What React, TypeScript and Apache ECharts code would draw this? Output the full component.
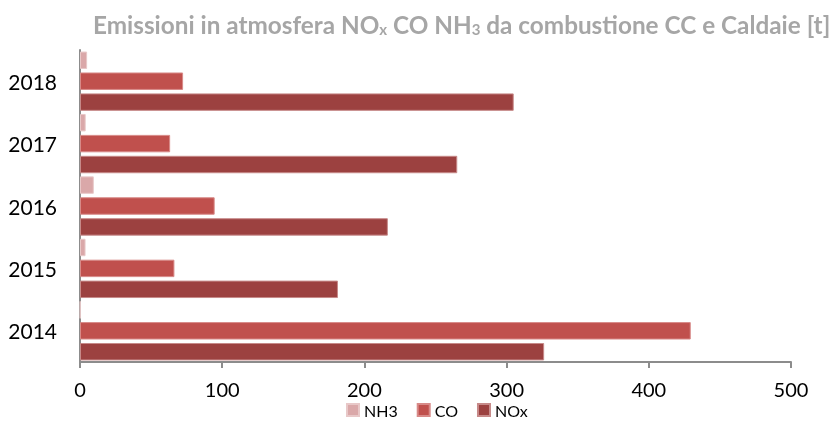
import React, { useEffect, useRef } from "react";
import * as echarts from "echarts";

const years = ["2014", "2015", "2016", "2017", "2018"];
const nh3 = [0.3, 3.9, 9.7, 4, 5];
const co = [429.5, 66.4, 94.7, 63.4, 72.5];
const nox = [326.4, 181.4, 216.5, 265.3, 305];
const xTicks = { min: 0, max: 500, interval: 100 };

const FONT = "Lato, 'Open Sans', sans-serif";

export default function App() {
  const ref = useRef<HTMLDivElement>(null);
  useEffect(() => {
    const chart = echarts.init(ref.current!, null, { renderer: "svg" });
    const mk = (name: string, data: number[], color: string, border: string) => ({
      name,
      type: "bar",
      data,
      barGap: "20%",
      barCategoryGap: "5%",
      itemStyle: { color, borderColor: border, borderWidth: 1 },
    });
    chart.setOption({
      animation: false,
      textStyle: { fontFamily: FONT },
      title: {
        text: "{t|Emissioni in atmosfera NO}{s|x}{t| CO NH}{s|3}{t| da combustione CC e Caldaie [t]}",
        left: 93,
        top: 6,
        padding: 0,
        textStyle: {
          rich: {
            t: { fontFamily: FONT, fontSize: 24.3, fontWeight: "bold", color: "#A6A6A6", lineHeight: 30, verticalAlign: "bottom" },
            s: { fontFamily: FONT, fontSize: 15, fontWeight: "bold", color: "#A6A6A6", lineHeight: 23, verticalAlign: "bottom" },
          },
        },
      },
      legend: {
        top: 402,
        left: 346,
        padding: 0,
        itemWidth: 12,
        itemHeight: 12,
        itemGap: 19,
        icon: "rect",
        textStyle: { fontFamily: FONT, fontSize: 16, lineHeight: 16, color: "#000", padding: [0, 0, 0, 0] },
        data: ["NH3", "CO", "NOx"],
      },
      grid: { left: 80, right: 42, top: 50, bottom: 59, containLabel: false },
      xAxis: {
        type: "value",
        min: xTicks.min,
        max: xTicks.max,
        interval: xTicks.interval,
        axisLine: { show: true, lineStyle: { color: "#8C8C8C", width: 2 } },
        axisTick: { show: true, length: 6, lineStyle: { color: "#8C8C8C", width: 2 } },
        splitLine: { show: false },
        axisLabel: { fontFamily: FONT, fontSize: 20, lineHeight: 20, color: "#000", margin: 17 },
      },
      yAxis: {
        type: "category",
        data: years,
        axisLine: { show: true, lineStyle: { color: "#8C8C8C", width: 2 } },
        axisTick: { show: false },
        axisLabel: { fontFamily: FONT, fontSize: 21, color: "#000", margin: 23 },
      },
      series: [
        mk("NH3", nh3, "#DAA8A9", "#E8C8C8"),
        mk("CO", co, "#C0504D", "#D88A88"),
        mk("NOx", nox, "#9C4140", "#C78A89"),
      ],
    });
    return () => chart.dispose();
  }, []);
  return (
    <div
      ref={ref}
      style={{ position: "fixed", left: 0, top: 0, width: 833, height: 421 }}
    />
  );
}
